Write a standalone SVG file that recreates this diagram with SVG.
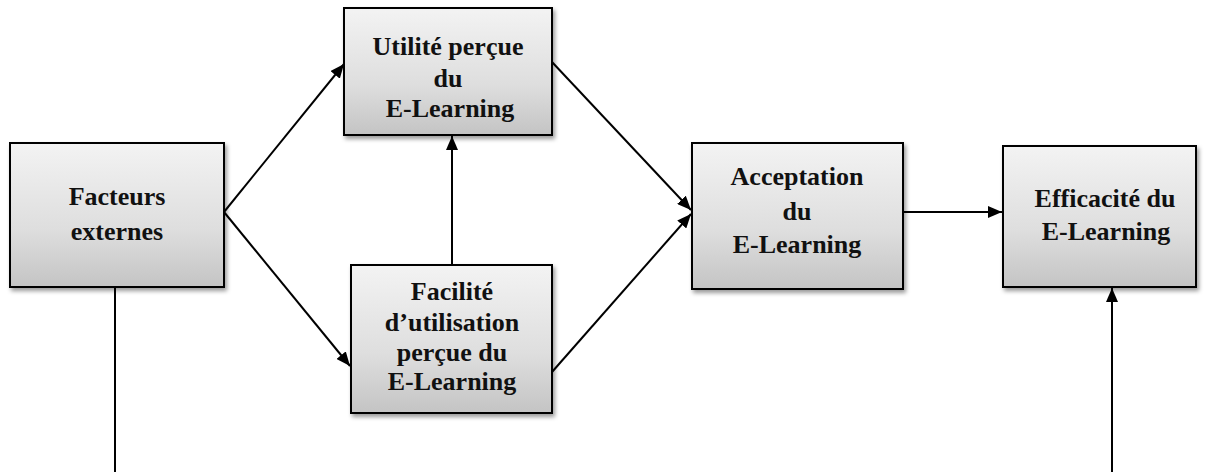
<svg xmlns="http://www.w3.org/2000/svg" width="1206" height="472" viewBox="0 0 1206 472">
  <style>
    .box { fill: url(#boxFill); stroke: #000; stroke-width: 2; filter: url(#shadow); }
    .label { font-family: "Liberation Serif", "Times New Roman", serif; font-weight: bold; font-size: 26px; fill: #111; text-anchor: middle; }
    .link { stroke: #000; stroke-width: 2; fill: none; }
    .arrow { marker-end: url(#head); }
  </style>
  <defs>
    <linearGradient id="boxFill" x1="0" y1="0" x2="0" y2="1">
      <stop offset="0" stop-color="#f3f3f3"/>
      <stop offset="0.6" stop-color="#dedede"/>
      <stop offset="1" stop-color="#c4c4c4"/>
    </linearGradient>
    <filter id="shadow" x="-10%" y="-10%" width="125%" height="130%">
      <feDropShadow dx="2" dy="3" stdDeviation="2" flood-color="#000" flood-opacity="0.4"/>
    </filter>
    <marker id="head" viewBox="0 0 14 12" refX="14" refY="6" markerWidth="14" markerHeight="12" markerUnits="userSpaceOnUse" orient="auto">
      <path d="M0,0 L14,6 L0,12 Z" fill="#000"/>
    </marker>
  </defs>

  <!-- connectors -->
  <g id="connectors">
    <line class="link arrow" x1="224" y1="212" x2="344" y2="64"/>
    <line class="link arrow" x1="224" y1="212" x2="350" y2="366"/>
    <line class="link arrow" x1="452" y1="265" x2="452" y2="136"/>
    <line class="link arrow" x1="552" y1="62" x2="691" y2="210"/>
    <line class="link arrow" x1="552" y1="372" x2="691" y2="214"/>
    <line class="link arrow" x1="903" y1="212" x2="1002" y2="212"/>
    <line class="link" x1="115" y1="288" x2="115" y2="472"/>
    <line class="link arrow" x1="1112" y1="472" x2="1112" y2="288"/>
  </g>

  <g id="facteurs-externes">
    <rect class="box" x="10" y="143" width="214" height="144"/>
    <text class="label" x="117" y="205">Facteurs</text>
    <text class="label" x="117" y="240">externes</text>
  </g>

  <g id="utilite-percue">
    <rect class="box" x="344" y="8" width="208" height="127"/>
    <text class="label" x="448" y="55">Utilité perçue</text>
    <text class="label" x="448" y="87">du</text>
    <text class="label" x="450" y="117">E-Learning</text>
  </g>

  <g id="facilite-utilisation">
    <rect class="box" x="351" y="265" width="201" height="148"/>
    <text class="label" x="452" y="300">Facilité</text>
    <text class="label" x="452" y="331">d’utilisation</text>
    <text class="label" x="452" y="361">perçue du</text>
    <text class="label" x="452" y="390">E-Learning</text>
  </g>

  <g id="acceptation">
    <rect class="box" x="692" y="143" width="211" height="146"/>
    <text class="label" x="797" y="185">Acceptation</text>
    <text class="label" x="797" y="220">du</text>
    <text class="label" x="797" y="253">E-Learning</text>
  </g>

  <g id="efficacite">
    <rect class="box" x="1003" y="146" width="193" height="141"/>
    <text class="label" x="1105" y="207">Efficacité du</text>
    <text class="label" x="1106" y="240">E-Learning</text>
  </g>
</svg>
